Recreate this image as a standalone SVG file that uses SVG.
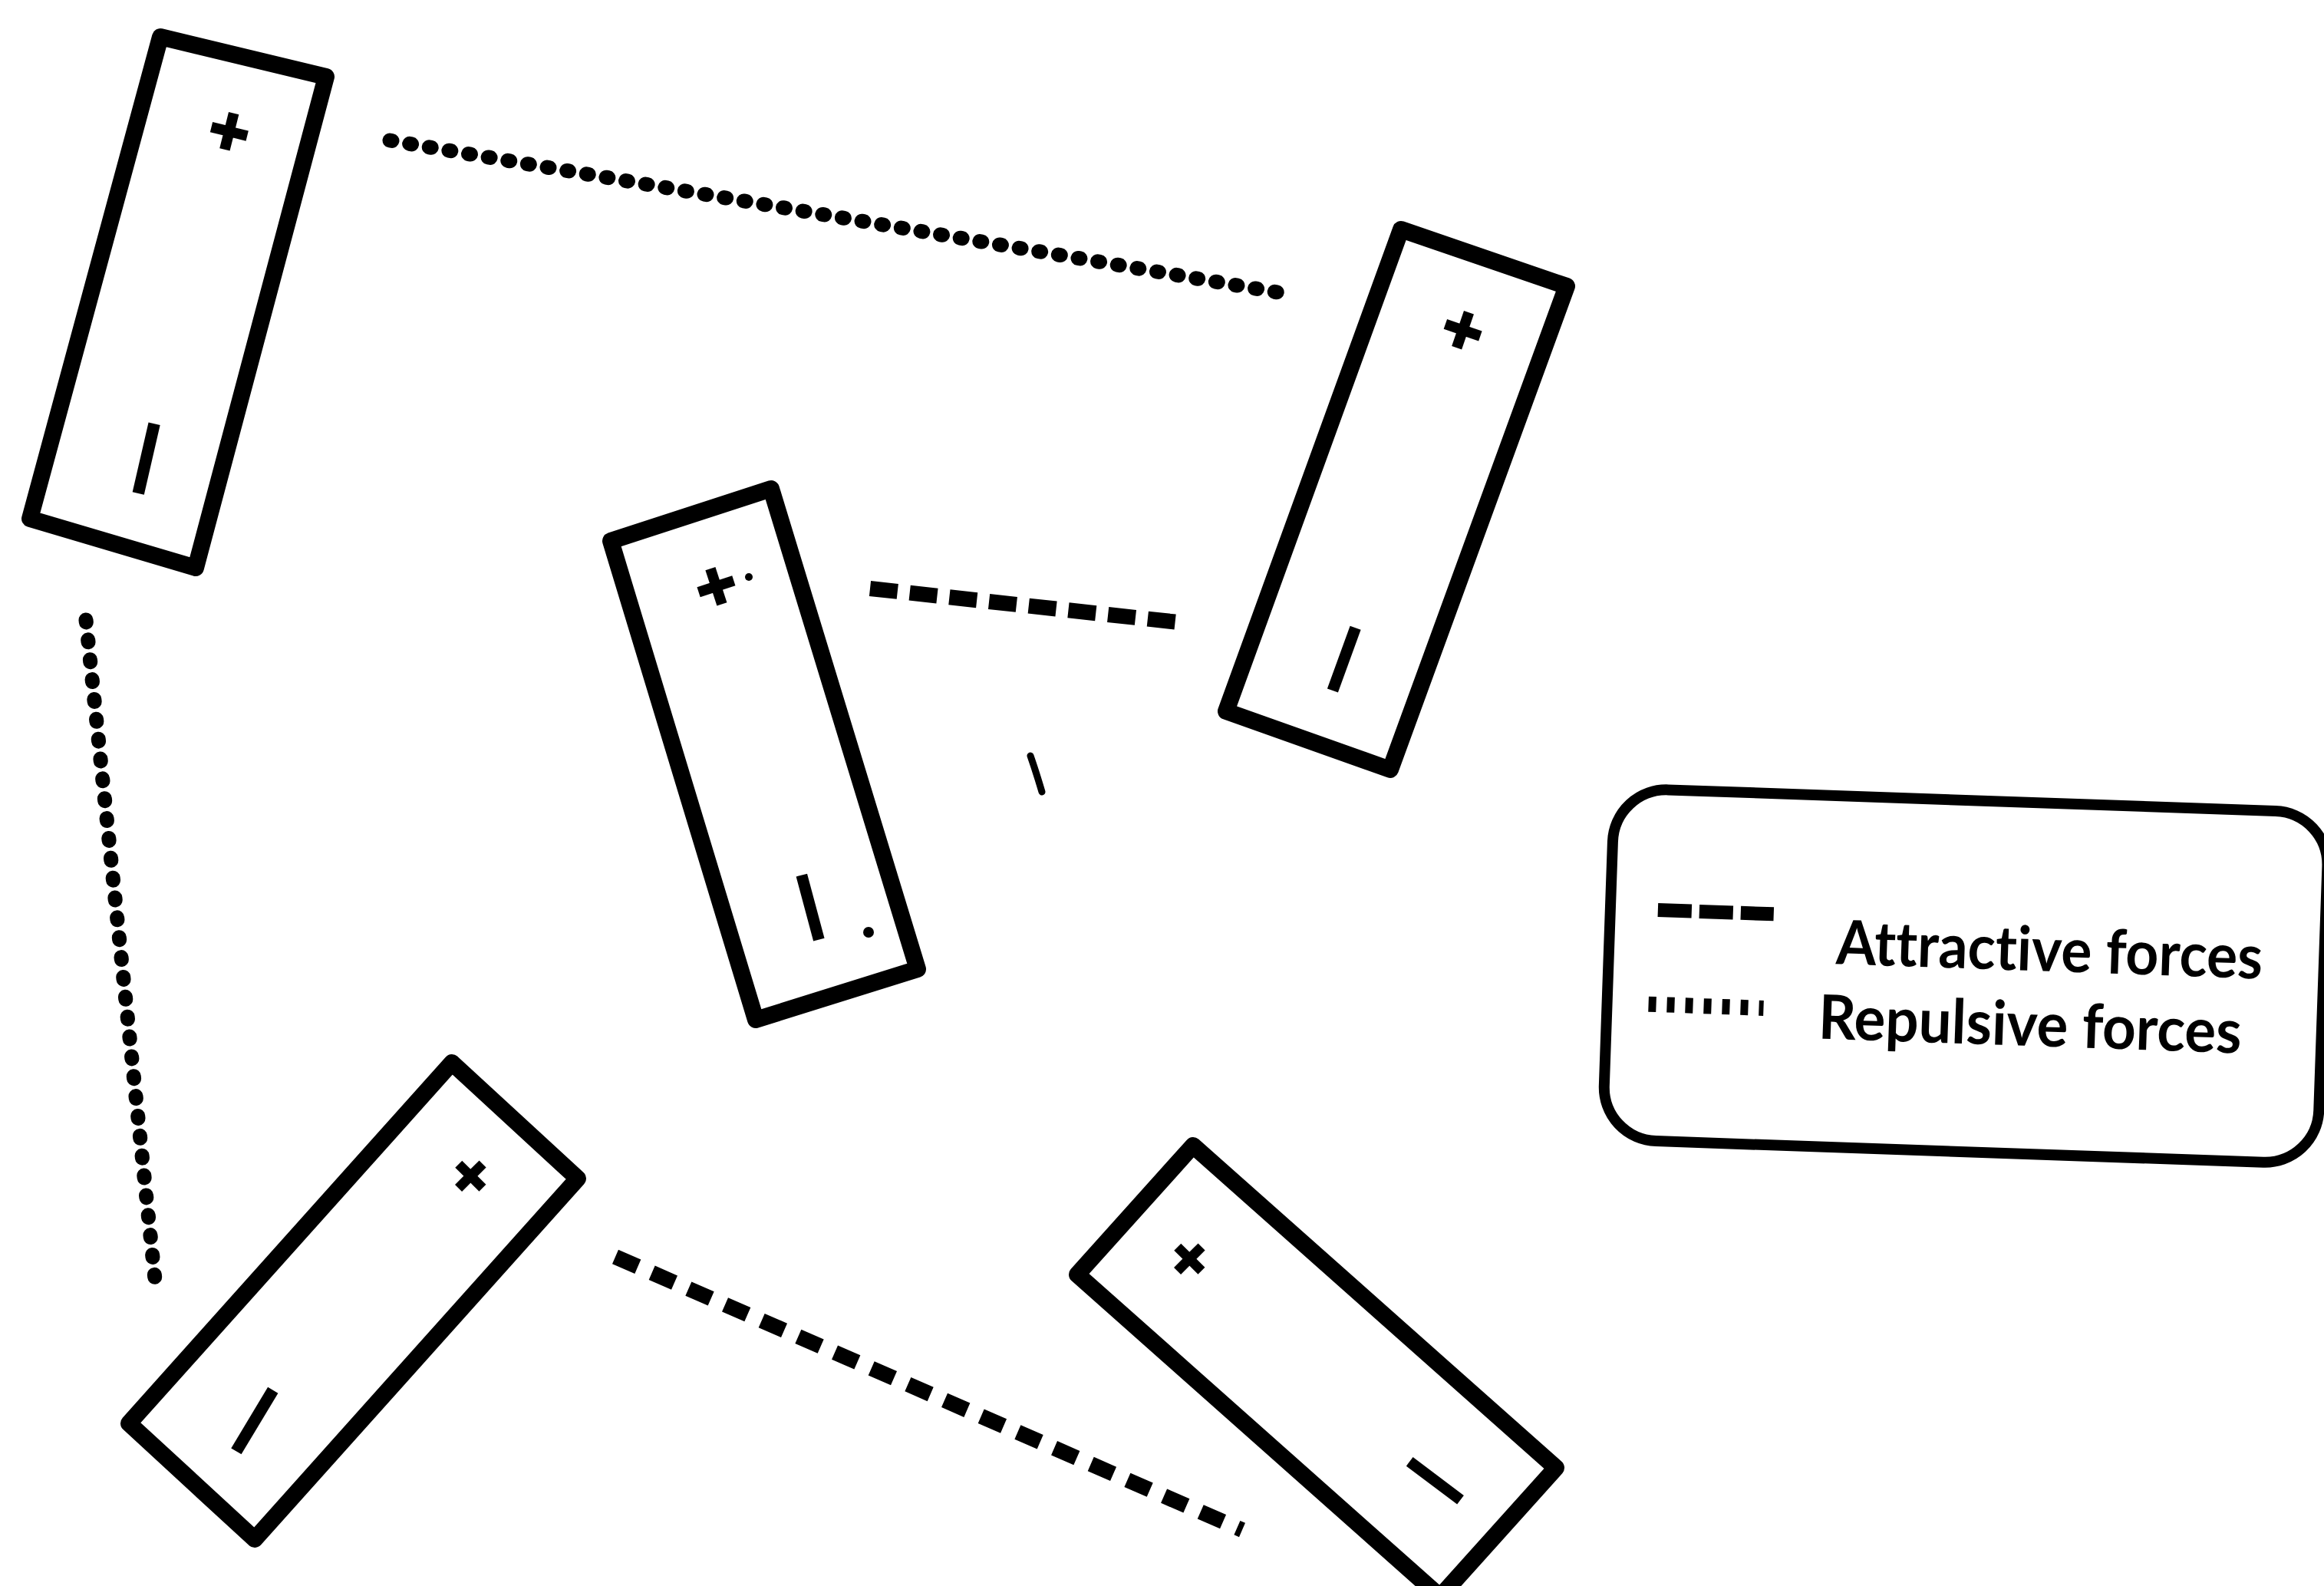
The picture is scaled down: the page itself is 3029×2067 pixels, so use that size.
<svg xmlns="http://www.w3.org/2000/svg" width="3029" height="2067" viewBox="0 0 3029 2067">
<style>
.bat{fill:#fff;stroke:#000;stroke-width:22;stroke-linejoin:round}
.sign{font-family:"Liberation Sans",Arial,sans-serif;font-weight:bold;fill:#000;stroke:#000;stroke-width:4;text-anchor:middle;dominant-baseline:central}
.minus{stroke-width:7}
.rep{fill:none;stroke:#000;stroke-width:19;stroke-linecap:round;stroke-dasharray:3 23}
.att{fill:none;stroke:#000;stroke-width:20;stroke-linecap:butt;stroke-dasharray:36 16}
.lg{font-family:Lato,"Liberation Sans",sans-serif;font-weight:bold;font-size:80px;fill:#000;font-variant-ligatures:none}
</style>
<rect width="3029" height="2067" fill="#fff"/>
<g id="connectors">
<line class="rep" x1="508" y1="183" x2="1677" y2="383"/>
<line class="rep" x1="112" y1="808" x2="203" y2="1677"/>
<line class="att" x1="1134" y1="767" x2="1536" y2="811"/>
<line class="att" x1="802" y1="1638" x2="1619" y2="1994" style="stroke-dasharray:32 20"/>
</g>
<g id="battery1">
<polygon class="bat" points="209,48 425,100 255,740 39,676"/>
<text class="sign" x="299" y="170" font-size="88" transform="rotate(14 299 170)">+</text>
<text class="sign minus" x="184" y="596" font-size="86" transform="rotate(-77 184 596)">—</text>
</g>
<g id="battery2">
<polygon class="bat" points="1826,299 2042,373 1812,1003 1598,927"/>
<text class="sign" x="1907" y="429" font-size="88" transform="rotate(19 1907 429)">+</text>
<text class="sign minus" x="1746" y="857" font-size="80" transform="rotate(-70 1746 857)">—</text>
</g>
<g id="battery3">
<polygon class="bat" points="796,705 1005,637 1196,1263 985,1329"/>
<text class="sign" x="933" y="763" font-size="88" transform="rotate(-18 933 763)">+</text>
<circle cx="976" cy="752" r="5"/>
<text class="sign minus" x="1062" y="1181" font-size="80" transform="rotate(75 1062 1181)">—</text>
<circle cx="1132" cy="1215" r="7"/>
</g>
<g id="battery4">
<polygon class="bat" points="589,1385 753,1536 332,2006 168,1855"/>
<text class="sign" x="614" y="1532" font-size="80" transform="rotate(45 614 1532)">+</text>
<text class="sign minus" x="326" y="1848" font-size="86" transform="rotate(-59 326 1848)">—</text>
</g>
<g id="battery5">
<polygon class="bat" points="1555,1493 2028,1913 1877,2081 1404,1661"/>
<text class="sign" x="1551" y="1640" font-size="80" transform="rotate(45 1551 1640)">+</text>
<text class="sign minus" x="1874" y="1925" font-size="76" transform="rotate(37 1874 1925)">—</text>
</g>
<path id="stray-mark" d="M1343,985 Q1350,1005 1358,1032" fill="none" stroke="#000" stroke-width="9" stroke-linecap="round"/>
<g id="legend" transform="rotate(2 2560 1275)">
<rect x="2096" y="1043" width="932" height="458" rx="70" fill="none" stroke="#000" stroke-width="14"/>
<line x1="2158" y1="1200" x2="2309" y2="1200" stroke="#000" stroke-width="18" stroke-dasharray="44 10"/>
<line x1="2150" y1="1323" x2="2300" y2="1323" stroke="#000" stroke-width="20" stroke-dasharray="10 14"/>
<text class="lg" x="2392" y="1262" textLength="556" lengthAdjust="spacingAndGlyphs">Attractive forces</text>
<text class="lg" x="2372" y="1360" textLength="552" lengthAdjust="spacingAndGlyphs">Repulsive forces</text>
</g>
</svg>
